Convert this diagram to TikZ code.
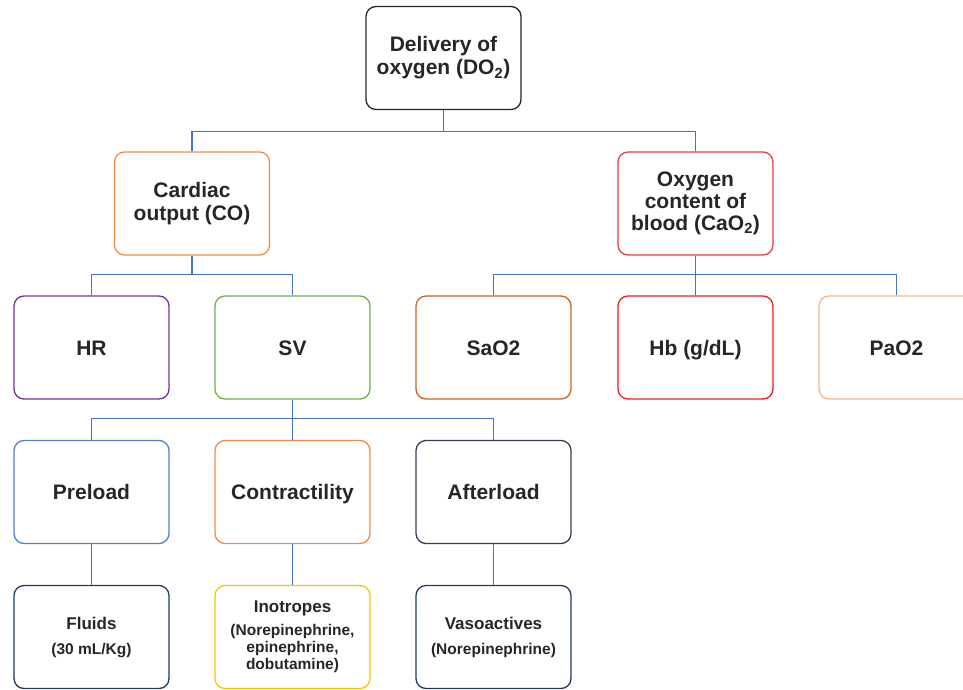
\documentclass[tikz,border=0pt]{standalone}
\usepackage{fontspec}
\setmainfont{Liberation Sans}
\usetikzlibrary{positioning}

\definecolor{linkblue}{HTML}{4472C4}
\definecolor{boxblack}{HTML}{262626}
\definecolor{coorange}{HTML}{F08A46}
\definecolor{cared}{HTML}{EC3B45}
\definecolor{hrpurple}{HTML}{7030A0}
\definecolor{svgreen}{HTML}{70AD47}
\definecolor{saorange}{HTML}{C8622A}
\definecolor{hbred}{HTML}{EE1C25}
\definecolor{paorange}{HTML}{F5B589}
\definecolor{preblue}{HTML}{4F7FD0}
\definecolor{conorange}{HTML}{F08A46}
\definecolor{aftslate}{HTML}{333F50}
\definecolor{drugnavy}{HTML}{1F3864}
\definecolor{inoyellow}{HTML}{FFC000}

\newcommand{\druginfo}{\fontsize{15.5}{17}\selectfont}

\begin{document}
\begin{tikzpicture}[node distance=144.5pt and 201pt,on grid,
  box/.style={draw,rounded corners=10pt,line width=1.3pt,minimum width=155pt,minimum height=103pt,
    align=center,font=\fontsize{21}{23}\selectfont\bfseries,text=boxblack},
  single/.style={box,text height=15pt,text depth=0pt},
  drug/.style={box,font=\fontsize{17}{20}\selectfont\bfseries},
  conn/.style={draw=linkblue,line width=1.2pt}]
  \useasboundingbox (-91.5pt,347.5pt) rectangle ++(963pt,-689pt);

  \node[single,draw=hrpurple]      (hr)   {HR};
  \node[single,draw=svgreen]       (sv)   [right=201pt of hr] {SV};
  \node[single,draw=saorange]      (sao2) [right=201pt of sv] {SaO2};
  \node[single,draw=hbred]         (hb)   [right=202pt of sao2] {Hb (g/dL)};
  \node[single,draw=paorange]      (pao2) [right=201pt of hb] {PaO2};
  \node[box,draw=coorange]         (co)   [above=144pt of hr,xshift=100.5pt] {Cardiac\\output (CO)};
  \node[box,draw=cared,font=\fontsize{21}{22}\selectfont\bfseries]
                                   (cao2) [above=144pt of hb] {Oxygen\\content of\\blood (CaO\textsubscript{2})};
  \node[box,draw=boxblack]         (do2)  [above=145.5pt of co,xshift=251.5pt] {Delivery of\\oxygen (DO\textsubscript{2})};
  \node[single,draw=preblue]       (pre)  [below=144.5pt of hr] {Preload};
  \node[single,draw=conorange]     (con)  [below=144.5pt of sv] {Contractility};
  \node[single,draw=aftslate]      (aft)  [below=144.5pt of sao2] {Afterload};
  \node[drug,draw=drugnavy]        (flu)  [below=145pt of pre] {Fluids\\[5pt]{\druginfo (30 mL/Kg)}};
  \node[drug,draw=inoyellow]       (ino)  [below=145pt of con] {Inotropes\\[3pt]{\druginfo (Norepinephrine,}\\[-3pt]{\druginfo epinephrine,}\\[-3pt]{\druginfo dobutamine)}};
  \node[drug,draw=drugnavy]        (vas)  [below=145pt of aft] {Vasoactives\\[5pt]{\druginfo (Norepinephrine)}};

  \path[conn] (do2.south) -- ++(0,-21pt) -| (co.north)
              (do2.south) -- ++(0,-21pt) -| (cao2.north)
              (co.south) -- ++(0,-19pt) -| (hr.north)
              (co.south) -- ++(0,-19pt) -| (sv.north)
              (cao2.south) -- ++(0,-19pt) -| (sao2.north)
              (cao2.south) -- ++(0,-19pt) -| (pao2.north)
              (cao2.south) -- (hb.north)
              (sv.south) -- ++(0,-19pt) -| (pre.north)
              (sv.south) -- ++(0,-19pt) -| (aft.north)
              (sv.south) -- (con.north)
              (pre) -- (flu)
              (con) -- (ino)
              (aft) -- (vas);
\end{tikzpicture}
\end{document}
